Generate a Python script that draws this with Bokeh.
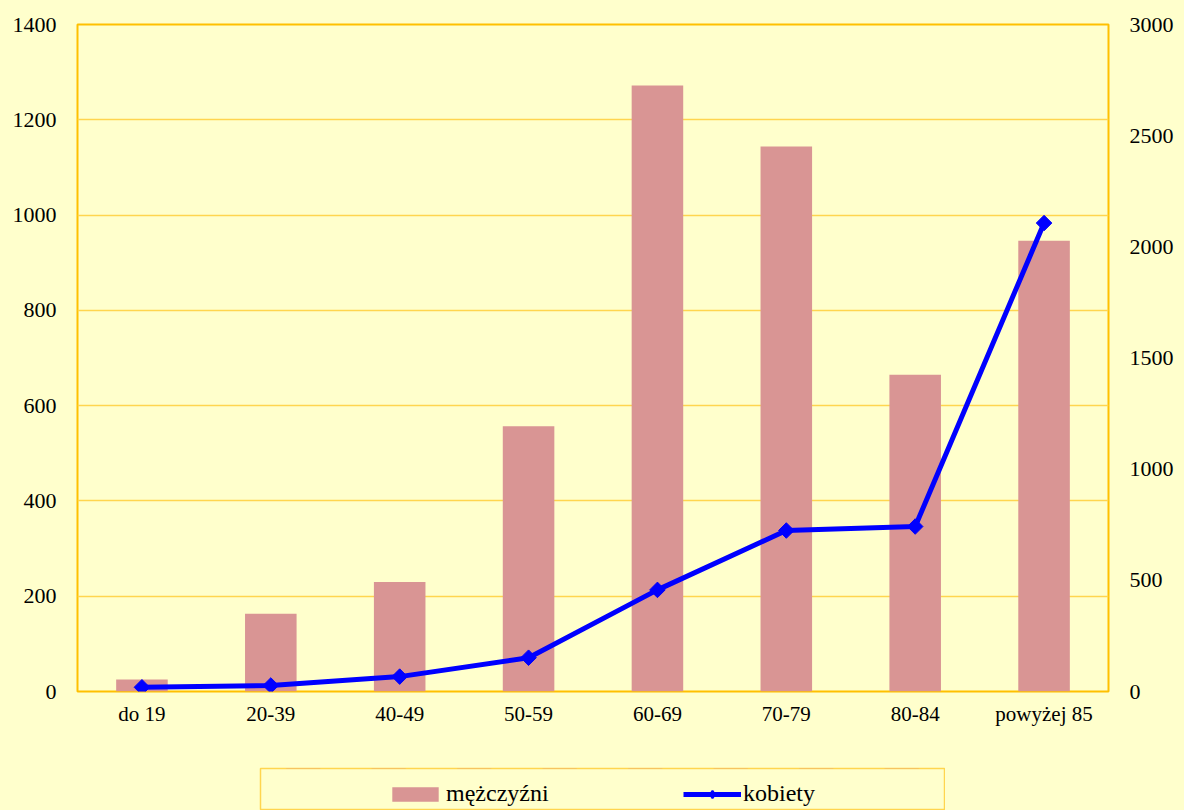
import math
from bokeh.plotting import figure
from bokeh.models import Range1d, FactorRange, LinearAxis, FixedTicker, Spacer
from bokeh.layouts import column, row
from bokeh.embed import file_html
from bokeh.resources import INLINE

# ---- data ----
categories = ["do 19", "20-39", "40-49", "50-59", "60-69", "70-79", "80-84", "powyżej 85"]
mezczyzni = [25, 163, 230, 557, 1272, 1144, 665, 946]
kobiety = [19, 27, 67, 152, 457, 724, 742, 2107]
left_ticks = [0, 200, 400, 600, 800, 1000, 1200, 1400]
right_ticks = [0, 500, 1000, 1500, 2000, 2500, 3000]
series_names = ["mężczyźni", "kobiety"]

BG = "#FFFFCC"
GOLD = "#FFC000"
GRID = "#FFD54F"
BAR = "#D99594"
BLUE = "#0000FF"
FONT = "Liberation Serif"

p = figure(width=1176, height=767,
           x_range=FactorRange(*categories), y_range=Range1d(0, 1400),
           extra_y_ranges={"kob": Range1d(0, 3000)},
           output_backend="svg", toolbar_location=None,
           min_border_left=77, min_border_right=67, min_border_top=24, min_border_bottom=76,
           background_fill_color=BG, border_fill_color=BG,
           outline_line_color=GOLD, outline_line_width=2)

p.vbar(x=categories, top=mezczyzni, width=0.4, fill_color=BAR, line_color=None)
p.line(x=categories, y=kobiety, y_range_name="kob", line_color=BLUE, line_width=5)
p.scatter(x=categories, y=kobiety, y_range_name="kob", marker="square",
          angle=math.pi / 4, size=11, fill_color=BLUE, line_color=BLUE)

p.xgrid.grid_line_color = None
p.ygrid.ticker = FixedTicker(ticks=left_ticks)
p.ygrid.grid_line_color = GRID
p.ygrid.grid_line_width = 1.3

p.yaxis.ticker = FixedTicker(ticks=left_ticks)
right_axis = LinearAxis(y_range_name="kob", ticker=FixedTicker(ticks=right_ticks))
p.add_layout(right_axis, "right")

for ax in [p.yaxis[0], right_axis]:
    ax.major_tick_line_color = None
    ax.minor_tick_line_color = None
    ax.axis_line_color = None
    ax.major_tick_out = 0
    ax.major_tick_in = 0
    ax.major_label_standoff = 21
    ax.major_label_text_font = FONT
    ax.major_label_text_font_size = "22px"
    ax.major_label_text_color = "black"

xa = p.xaxis[0]
xa.major_tick_line_color = None
xa.minor_tick_line_color = None
xa.axis_line_color = None
xa.major_tick_out = 0
xa.major_tick_in = 0
xa.major_label_standoff = 10
xa.major_label_text_font = FONT
xa.major_label_text_font_size = "21px"
xa.major_label_text_color = "black"

# ---- legend box (proxy renderers lie outside the visible range) ----
p2 = figure(width=686, height=43, x_range=FactorRange(*categories), y_range=Range1d(-20000, -10000),
            output_backend="svg", toolbar_location=None,
            min_border_left=1, min_border_right=1, min_border_top=1, min_border_bottom=0,
            x_axis_location=None, y_axis_location=None,
            background_fill_color=BG, border_fill_color=BG,
            outline_line_color=GRID, outline_line_width=1.5)
p2.grid.visible = False
p2.vbar(x=categories, top=mezczyzni, width=0.4, fill_color=BAR, line_color=None,
        legend_label=series_names[0])
p2.line(x=categories, y=kobiety, line_color=BLUE, line_width=5, legend_label=series_names[1])
p2.scatter(x=categories, y=kobiety, marker="diamond", size=11,
           fill_color=BLUE, line_color=BLUE, line_width=2, legend_label=series_names[1])

leg = p2.legend[0]
leg.location = (126, 3)
leg.orientation = "horizontal"
leg.padding = 0
leg.margin = 0
leg.spacing = 22
leg.glyph_width = 58
leg.glyph_height = 18
leg.label_standoff = 2
leg.label_width = 215
leg.label_text_font = FONT
leg.label_text_font_size = "24px"
leg.label_text_color = "black"
leg.border_line_color = None
leg.background_fill_alpha = 0

layout = column(p, row(Spacer(width=259, height=43), p2), styles={"background-color": BG})

html = file_html(layout, INLINE)
html = html.replace("</head>", "<style>html, body { background-color: #FFFFCC; }</style></head>", 1)
open("out.html", "w").write(html)
